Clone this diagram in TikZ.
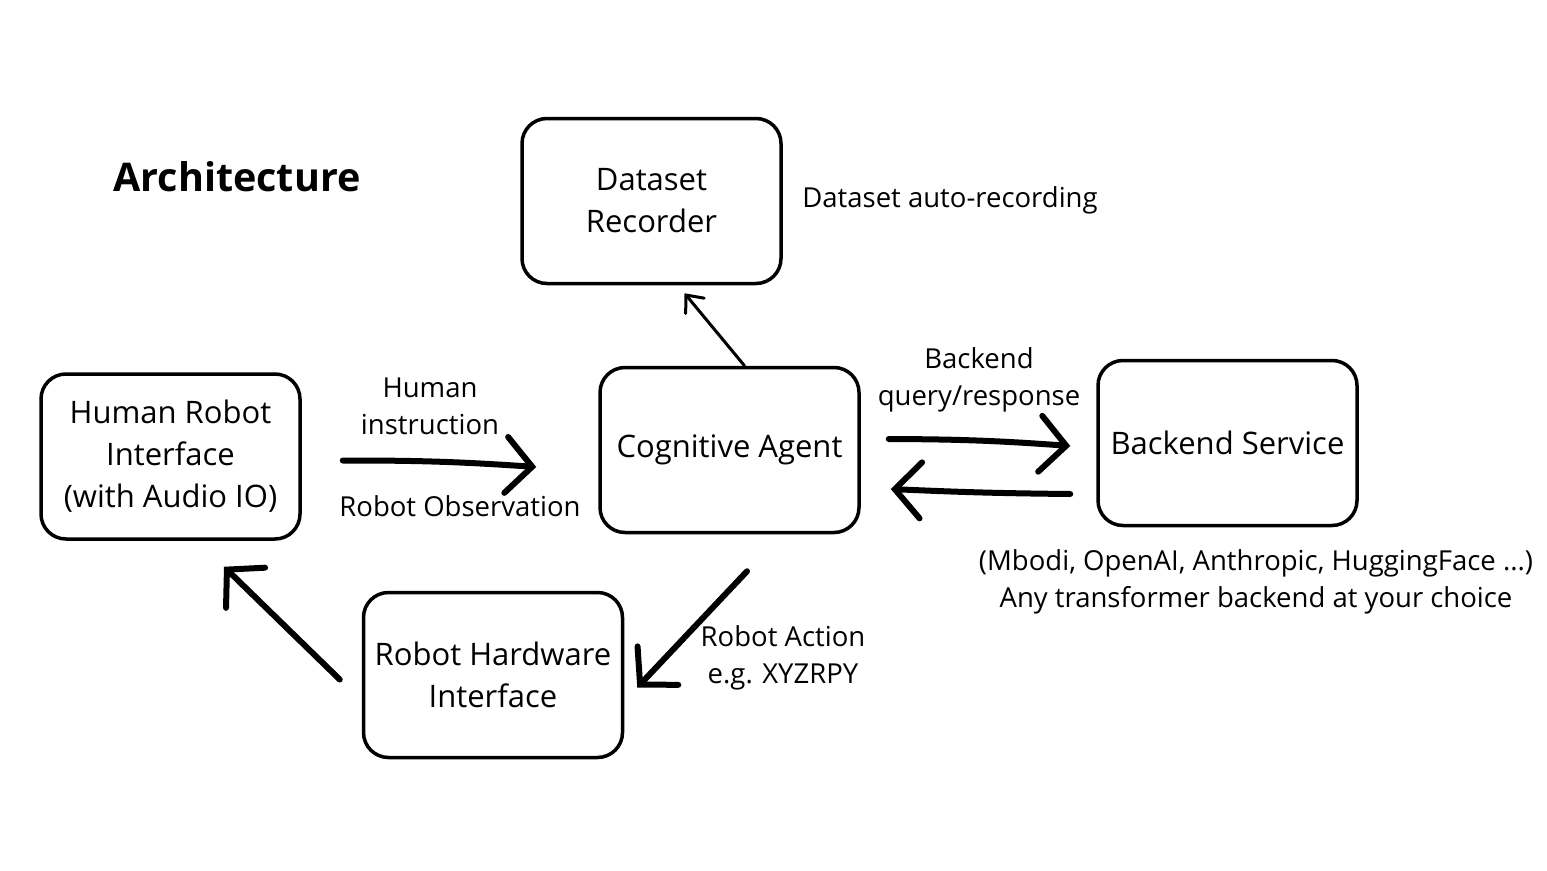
\documentclass[tikz,border=0pt]{standalone}
\usepackage{fontspec}
\setmainfont{Open Sans}
\usetikzlibrary{calc,arrows.meta}

\tikzset{
  box/.style={draw, line width=3.5, rounded corners=25, minimum width=259,
    minimum height=165, align=center, inner sep=0pt,
    font=\fontsize{31}{42}\selectfont},
  lbl/.style={align=center, inner sep=0pt, font=\fontsize{27.5}{37}\selectfont},
  bigarrow/.style={line width=6, line cap=round,
    -{Straight Barb[length=26, width=56, line cap=round]}},
  thinarrow/.style={line width=3, line cap=round,
    -{Straight Barb[length=14, width=24, line cap=round]}}
}

\begin{document}
\begin{tikzpicture}[x=1pt,y=-1pt]
  \useasboundingbox (0,0) rectangle (1547,870);
  \node[inner sep=0pt, font=\fontsize{39.5}{40}\selectfont\bfseries] (T) at (237,177) {Architecture};
  \node[box] (REC) at (651.5,201) {Dataset\\Recorder};
  \node[box] (HRI) at (170.5,456.5) {Human Robot\\Interface\\(with Audio IO)};
  \node[box] (COG) at (729.5,450) {Cognitive Agent};
  \node[box] (BS) at (1227.5,443) {Backend Service};
  \node[box] (RHW) at (493,675) {Robot Hardware\\Interface};
  \node[lbl] (L1) at (430,406) {Human\\instruction};
  \node[lbl] (L2) at (460,506) {Robot Observation};
  \node[lbl] (L3) at (979,380) {Backend\\query/response};
  \node[lbl] (L4) at (950,200) {Dataset auto-recording};
  \node[lbl] (L5) at (1256,582) {(Mbodi, OpenAI, Anthropic, HuggingFace ...)\\Any transformer backend at your choice};
  \node[lbl] (L6) at (783,658) {Robot Action\\e.g. XYZRPY};
  \draw[thinarrow] ($(COG.north)+(15,0)$) -- ($(REC.south)+(33,8)$);
  \draw[bigarrow] ($(HRI.east)+(41,4)$) to[bend left=2] ($(COG.west)+(-62,17)$);
  \draw[bigarrow] ($(COG.east)+(28,-11)$) to[bend left=2] ($(BS.west)+(-26,3)$);
  \draw[bigarrow] ($(BS.west)+(-26,51)$) to[bend left=1] ($(COG.east)+(30,39)$);
  \draw[bigarrow] ($(COG.south)+(17.5,37)$) -- ($(RHW.east)+(13,12.5)$);
  \draw[bigarrow] ($(RHW.west)+(-22,4.5)$) -- ($(HRI.south)+(53.5,26)$);
\end{tikzpicture}
\end{document}
